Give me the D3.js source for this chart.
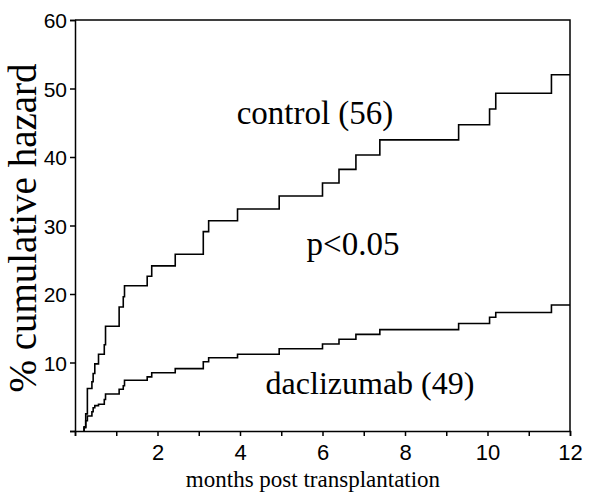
<!DOCTYPE html>
<html>
<head>
<meta charset="utf-8">
<script src="https://cdn.jsdelivr.net/npm/d3@7"></script>
<style>
  body { margin: 0; background: #fff; }
  .tick text { font-family: "Liberation Sans", Arial, sans-serif; }
</style>
</head>
<body>
<script>
// step times (months), shared by both curves
const months = [0.22, 0.26, 0.30, 0.41, 0.44, 0.48, 0.57, 0.71, 0.74, 1.07, 1.17, 1.20,
  1.75, 1.86, 2.43, 3.11, 3.24, 3.94, 4.95, 6.00, 6.40, 6.81, 7.39, 9.30, 10.05, 10.2, 11.55, 12]
const control = [0.5, 2.5, 6.2, 7.2, 8.4, 9.8, 11.2, 12.6, 15.3, 18.1, 19.6, 21.2,
  22.6, 24.1, 25.8, 29.1, 30.7, 32.4, 34.3, 36.2, 38.2, 40.3, 42.5, 44.7, 47.0, 49.3, 52.0, 52.0]
const daclizumab = [0.6, 1.5, 2.2, 2.8, 3.4, 3.7, 3.9, 4.6, 5.4, 6.1, 6.6, 7.4,
  7.9, 8.5, 9.1, 10.1, 10.7, 11.2, 12.0, 12.7, 13.4, 14.1, 14.8, 15.7, 16.6, 17.3, 18.4, 18.4]

const xTicks = d3.range(0, 13)
const yTicks = [0, 10, 20, 30, 40, 50, 60]

//Width and height
var w = 605
var h = 494
var margin = { top: 20, right: 35, bottom: 63, left: 75 }

var x = d3.scaleLinear().domain([0, 12]).range([margin.left, w - margin.right])
var y = d3.scaleLinear().domain([0, 60]).range([h - margin.bottom, margin.top])

var svg = d3.select("body").append("svg")
  .attr("width", w)
  .attr("height", h)

//axes
var xAxis = d3.axisBottom(x)
  .tickValues(xTicks)
  .tickSize(5)
  .tickFormat(d => (d > 0 && d % 2 === 0) ? d : "")

var yAxis = d3.axisLeft(y)
  .tickValues(yTicks)
  .tickSize(5)
  .tickFormat(d => d > 0 ? d : "")

var gx = svg.append("g")
  .attr("transform", `translate(0,${y(0)})`)
  .call(xAxis)
gx.selectAll("text").attr("font-size", 22).attr("dy", "0.95em")

var gy = svg.append("g")
  .attr("transform", `translate(${x(0)},0)`)
  .call(yAxis)
gy.selectAll("text").attr("font-size", 21).attr("x", -8).attr("dy", "0.36em")

svg.selectAll(".domain").attr("stroke-width", 1.5)
svg.selectAll(".tick line").attr("stroke-width", 1.5)

// frame top + right
svg.append("path")
  .attr("d", `M${x(0)},${y(60)}H${x(12)}V${y(0)}`)
  .attr("fill", "none")
  .attr("stroke", "#000")
  .attr("stroke-width", 1.5)

//curves
var line = d3.line()
  .x(d => x(d[0]))
  .y(d => y(d[1]))
  .curve(d3.curveStepAfter)

function series(vals) {
  return [[months[0], 0]].concat(months.map((m, i) => [m, vals[i]]))
}

svg.append("path")
  .datum(series(control))
  .attr("d", line)
  .attr("fill", "none")
  .attr("stroke", "#000")
  .attr("stroke-width", 1.6)

svg.append("path")
  .datum(series(daclizumab))
  .attr("d", line)
  .attr("fill", "none")
  .attr("stroke", "#000")
  .attr("stroke-width", 1.6)

//labels
var serif = '"Liberation Serif", "Times New Roman", serif'

function label(txt, px, py, size) {
  return svg.append("text")
    .attr("x", px).attr("y", py)
    .attr("text-anchor", "middle")
    .attr("font-family", serif)
    .attr("font-size", size)
    .text(txt)
}

label("control (56)", 315, 124, 33)
label("p<0.05", 353, 255, 33)
label("daclizumab (49)", 370, 394, 32)
label("months post transplantation", 313, 487, 23)

svg.append("text")
  .attr("transform", "translate(36,228) rotate(-90)")
  .attr("text-anchor", "middle")
  .attr("font-family", serif)
  .attr("font-size", 39)
  .text("% cumulative hazard")
</script>
</body>
</html>
